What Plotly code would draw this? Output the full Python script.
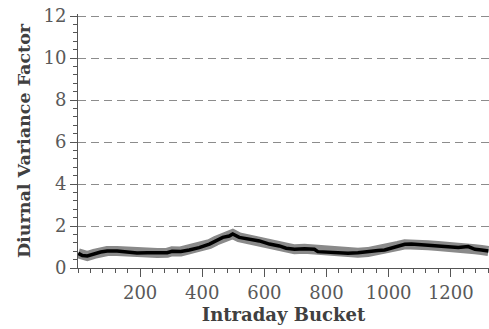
import plotly.graph_objects as go

# Intraday bucket positions and diurnal variance factor
buckets = [1, 14, 30, 52, 73, 94, 126, 158, 190, 223, 255, 287, 303, 331, 358, 390,
           423, 444, 466, 487, 498, 519, 552, 584, 616, 648, 670, 697, 729, 761, 772,
           804, 837, 869, 901, 933, 966, 987, 1009, 1030, 1052, 1073, 1095, 1127, 1159,
           1191, 1224, 1256, 1278, 1299, 1321]
factor = [0.70, 0.59, 0.57, 0.67, 0.76, 0.81, 0.81, 0.76, 0.71, 0.73, 0.71, 0.73, 0.80,
          0.79, 0.86, 0.97, 1.14, 1.30, 1.46, 1.52, 1.62, 1.46, 1.37, 1.29, 1.14, 1.05,
          0.94, 0.89, 0.92, 0.89, 0.78, 0.75, 0.70, 0.70, 0.73, 0.76, 0.83, 0.86, 0.94,
          1.05, 1.13, 1.14, 1.13, 1.08, 1.05, 1.02, 0.98, 1.02, 0.89, 0.86, 0.81]

x_tickvals = [200, 400, 600, 800, 1000, 1200]
y_tickvals = [0, 2, 4, 6, 8, 10, 12]

fig = go.Figure()
fig.add_trace(go.Scatter(x=buckets, y=factor, mode="lines",
                         line=dict(color="#8a8a8a", width=10), hoverinfo="skip"))
fig.add_trace(go.Scatter(x=buckets, y=factor, mode="lines",
                         line=dict(color="#000000", width=3.5)))

font_family = "DejaVu Serif"
fig.update_layout(
    width=489, height=329,
    margin=dict(l=78, r=0, t=14, b=61),
    paper_bgcolor="white", plot_bgcolor="white",
    showlegend=False,
    font=dict(family=font_family, color="#595959"),
    xaxis=dict(
        range=[0, 1323],
        tickvals=x_tickvals,
        ticks="outside", ticklen=8, tickwidth=1, tickcolor="#555555",
        tickfont=dict(size=18, color="#595959", family=font_family),
        showline=True, linecolor="#555555", linewidth=1,
        showgrid=False, zeroline=False,
        minor=dict(dtick=40, tick0=0, ticks="outside", ticklen=4, tickcolor="#555555", showgrid=False),
        title=dict(text="<b>Intraday Bucket</b>", font=dict(size=18, color="#404040", family=font_family),
                   standoff=6),
    ),
    yaxis=dict(
        range=[0, 12.1],
        tickvals=y_tickvals,
        ticks="outside", ticklen=7, tickwidth=1, tickcolor="#555555",
        tickfont=dict(size=18, color="#595959", family=font_family),
        showline=True, linecolor="#555555", linewidth=1,
        showgrid=True, gridcolor="#8c8c8c", griddash="8px,5px", gridwidth=1,
        zeroline=False,
        minor=dict(dtick=0.4, tick0=0, ticks="outside", ticklen=4, tickcolor="#555555", showgrid=False),
        title=dict(text="<b>Diurnal Variance Factor</b>", font=dict(size=17.5, color="#404040", family=font_family),
                   standoff=8),
    ),
)

fig.write_html("out.html")
